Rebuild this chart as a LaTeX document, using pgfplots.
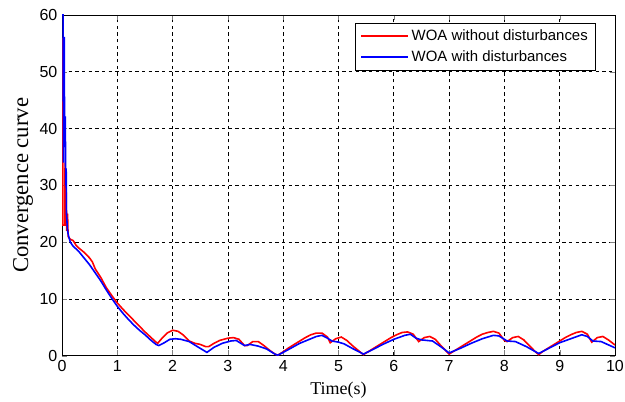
\documentclass[border=0pt]{standalone}
\usepackage{pgfplots}
\pgfplotsset{compat=1.18}
\usepackage{fontspec}
\setmainfont{Liberation Serif}
\newfontfamily\arial{Liberation Sans}

\pgfplotstableread{
x y
0 56
0.005 35
0.01 43
0.015 23
0.05 23
0.055 34
0.065 26
0.075 29
0.085 22
0.1 25
0.11 21
0.15 20.5
0.2 20.3
0.25 19.5
0.3 19.0
0.4 18.2
0.5 17.2
0.55 16.5
0.6 15.3
0.7 13.8
0.8 12.0
0.9 10.6
1.0 9.3
1.1 8.2
1.2 7.2
1.3 6.2
1.4 5.2
1.5 4.2
1.6 3.3
1.7 2.4
1.73 2.2
1.8 3.0
1.9 4.0
2.0 4.5
2.1 4.3
2.2 3.6
2.3 2.6
2.4 2.2
2.5 2.0
2.6 1.6
2.65 1.6
2.75 2.2
2.85 2.7
3.0 3.1
3.1 3.2
3.2 2.9
3.3 1.8
3.35 1.8
3.45 2.5
3.55 2.5
3.65 1.8
3.75 1.0
3.85 0.3
3.9 0.1
4.0 0.7
4.1 1.4
4.2 2.0
4.3 2.6
4.4 3.2
4.5 3.7
4.6 4.0
4.7 4.0
4.8 3.3
4.85 2.3
4.95 3.0
5.05 3.3
5.15 2.7
5.25 1.8
5.35 1.0
5.45 0.2
5.55 0.8
5.65 1.4
5.75 2.0
5.85 2.6
5.95 3.2
6.05 3.7
6.15 4.1
6.25 4.2
6.35 3.8
6.45 2.5
6.55 3.2
6.65 3.4
6.75 2.9
6.85 1.8
6.95 0.8
7.0 0.3
7.1 0.9
7.2 1.5
7.3 2.1
7.4 2.7
7.5 3.3
7.6 3.8
7.7 4.1
7.8 4.3
7.9 4.0
8.0 2.7
8.05 2.5
8.15 3.2
8.25 3.4
8.35 2.8
8.45 1.8
8.55 0.8
8.62 0.2
8.7 0.8
8.8 1.4
8.9 2.0
9.0 2.6
9.1 3.2
9.2 3.7
9.3 4.1
9.4 4.3
9.5 3.8
9.58 2.4
9.68 3.2
9.78 3.4
9.88 2.8
10.0 1.9
}\nodist

\pgfplotstableread{
x y
0 60
0.02 60
0.025 34
0.03 56
0.04 56
0.045 42
0.06 42
0.065 30
0.075 33
0.08 25
0.1 22
0.12 21
0.15 20.0
0.2 19.3
0.3 18.4
0.4 17.2
0.5 16.0
0.6 14.6
0.7 13.2
0.8 11.6
0.9 10.1
1.0 8.7
1.1 7.5
1.2 6.4
1.3 5.4
1.4 4.5
1.5 3.7
1.6 2.8
1.7 2.0
1.75 1.8
1.85 2.3
1.95 2.9
2.05 3.0
2.15 2.9
2.3 2.5
2.45 1.6
2.62 0.6
2.75 1.5
2.9 2.2
3.05 2.6
3.15 2.7
3.3 1.8
3.4 2.0
3.55 1.7
3.7 1.2
3.85 0.3
3.9 0.1
4.0 0.6
4.15 1.4
4.3 2.2
4.45 2.8
4.6 3.4
4.7 3.6
4.8 3.1
4.88 2.6
5.0 2.4
5.1 2.1
5.25 1.3
5.45 0.3
5.6 1.0
5.8 2.0
6.0 2.9
6.2 3.6
6.3 3.8
6.4 3.1
6.5 2.8
6.7 2.6
6.85 1.6
7.0 0.5
7.2 1.3
7.4 2.2
7.6 3.0
7.8 3.6
7.9 3.5
8.05 2.6
8.2 2.5
8.4 1.6
8.62 0.4
8.8 1.3
9.0 2.3
9.2 3.0
9.4 3.7
9.5 3.4
9.6 2.6
9.75 2.5
10.0 1.4
}\withdist

\begin{document}
\begin{tikzpicture}
\begin{axis}[
name=ax,
scale only axis,
width=414.5pt, height=255.5pt,
xmin=0, xmax=10, ymin=0, ymax=60,
xtick={0,1,...,10}, ytick={0,10,...,60},
tick align=inside,
major tick length=4pt,
axis line style={black, line width=0.6pt},
grid=major,
major grid style={black, dashed, line width=0.5pt, dash pattern=on 2.5pt off 2.5pt},
/pgf/number format/assume math mode=true,
tick label style={font=\arial\fontsize{12}{12}\selectfont},
xlabel={Time(s)},
ylabel={Convergence curve},
xlabel style={font=\fontsize{13.5}{13.5}\selectfont, yshift=-1pt},
ylabel style={font=\fontsize{17}{17}\selectfont, yshift=-2pt},
legend cell align=left,
legend style={at={(0.966,0.977)}, anchor=north east, draw=black, line width=0.6pt,
  font=\arial\fontsize{11.2}{13}\selectfont, inner xsep=4pt, inner ysep=3pt, row sep=2pt},
legend image post style={line width=1.2pt},
legend image code/.code={\draw[#1] (0cm,0cm) -- (1.24cm,0cm);},
]
\addplot[red, line width=1.2pt] table[x=x,y=y] {\nodist};
\addlegendentry{WOA without disturbances}
\addplot[blue, line width=1.2pt] table[x=x,y=y] {\withdist};
\addlegendentry{WOA with disturbances}
\end{axis}
\pgfresetboundingbox
\path[use as bounding box] ([xshift=-46.5pt,yshift=-34.5pt]ax.south west) rectangle ([xshift=7.5pt,yshift=11.2pt]ax.north east);
\end{tikzpicture}
\end{document}
